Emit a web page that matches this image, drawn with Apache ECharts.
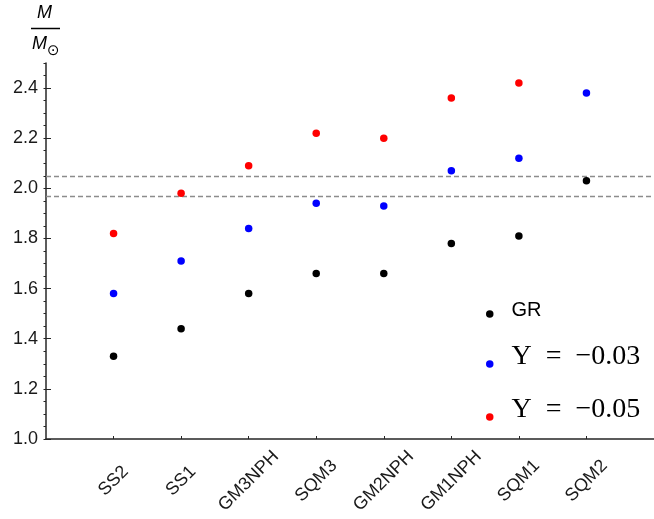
<!DOCTYPE html>
<html>
<head>
<meta charset="utf-8">
<script src="https://cdn.jsdelivr.net/npm/echarts@6/dist/echarts.min.js"></script>
<style>
  html, body { margin: 0; padding: 0; background: #fff; }
  #chart { width: 654px; height: 519px; }
</style>
</head>
<body>
<div id="chart"></div>
<script>
// Equation-of-state models along the x axis
const categories = ['SS2', 'SS1', 'GM3NPH', 'SQM3', 'GM2NPH', 'GM1NPH', 'SQM1', 'SQM2'];
// Maximum masses (in solar masses) for each model
const massGR = [1.33, 1.44, 1.58, 1.66, 1.66, 1.78, 1.81, 2.03];
const massUps003 = [1.58, 1.71, 1.84, 1.94, 1.93, 2.07, 2.12, 2.38];
const massUps005 = [1.82, 1.98, 2.09, 2.22, 2.20, 2.36, 2.42, null];
// Observed mass band limits
const bandLimits = [1.97, 2.05];
// Y axis range and label step
const yMin = 1.0, yMax = 2.5, yStep = 0.2, yMinorStep = 0.05;

const seriesNames = ['GR', 'Υ\u2002=\u2002−0.03', 'Υ\u2002=\u2002−0.05'];
const seriesColors = ['#000000', '#0000ff', '#ff0000'];
const seriesValues = [massGR, massUps003, massUps005];

const positions = categories.map((c, i) => i + 1);

const chart = echarts.init(document.getElementById('chart'), null, { renderer: 'canvas' });

const axisColor = '#262626';
const sans = '"Liberation Sans", Arial, sans-serif';
const serif = '"Liberation Serif", "DejaVu Serif", serif';

const series = seriesValues.map((vals, s) => ({
  name: seriesNames[s],
  type: 'scatter',
  yAxisIndex: 0,
  symbol: 'circle',
  symbolSize: 7.5,
  itemStyle: { color: seriesColors[s], opacity: 1 },
  data: vals.map((v, i) => [positions[i], v]).filter(d => d[1] !== null),
  z: 3
}));

// Dashed reference lines for the observed mass band
series[0].markLine = {
  silent: true,
  symbol: ['none', 'none'],
  label: { show: false },
  lineStyle: { color: '#8c8c8c', type: [5, 3], width: 1.3, opacity: 1 },
  data: bandLimits.map(v => ({ yAxis: v })),
  z: 1
};

// One legend block per series; the label sits a little above its dot
function legendFor(name, top, font, size, lineH, raise) {
  return {
    data: [{ name: name, icon: 'circle' }],
    left: 486,
    top: top,
    padding: 0,
    itemWidth: 7.5,
    itemHeight: 7.5,
    itemGap: 0,
    selectedMode: false,
    formatter: n => '{t|' + n + '}',
    textStyle: {
      rich: {
        t: {
          fontFamily: font,
          fontSize: size,
          lineHeight: lineH,
          color: '#000',
          padding: [0, 0, raise, 13]
        }
      }
    }
  };
}

const option = {
  animation: false,
  backgroundColor: '#ffffff',
  grid: { left: 46, right: -3, top: 63, bottom: 80, containLabel: false },
  xAxis: {
    type: 'value',
    min: 0,
    max: 9,
    axisLine: { show: true, onZero: false, lineStyle: { color: axisColor, width: 1.5 } },
    axisTick: { show: true, inside: true, length: 3, customValues: positions, lineStyle: { color: axisColor, width: 1 } },
    axisLabel: {
      show: true,
      customValues: positions,
      formatter: v => categories[Math.round(v) - 1] || '',
      rotate: 45,
      align: 'center',
      verticalAlign: 'middle',
      margin: 42,
      fontFamily: sans,
      fontSize: 18,
      color: '#1a1a1a'
    },
    splitLine: { show: false }
  },
  yAxis: [
    {
      type: 'value',
      min: yMin,
      max: yMax,
      interval: yStep,
      axisLine: { show: true, onZero: false, lineStyle: { color: axisColor, width: 1.5 } },
      axisTick: { show: true, inside: true, length: 5, lineStyle: { color: axisColor, width: 1 } },
      axisLabel: {
        showMaxLabel: false,
        formatter: v => v.toFixed(1),
        margin: 8,
        fontFamily: sans,
        fontSize: 18,
        color: '#1a1a1a'
      },
      splitLine: { show: false }
    },
    {
      type: 'value',
      min: yMin,
      max: yMax,
      interval: yMinorStep,
      axisLine: { show: false },
      axisTick: { show: true, inside: true, length: 2.5, lineStyle: { color: axisColor, width: 1 } },
      axisLabel: { show: false },
      splitLine: { show: false }
    }
  ],
  legend: [
    legendFor(seriesNames[0], 300, sans, 20, 20, 8),
    legendFor(seriesNames[1], 342.5, serif, 28, 28, 15),
    legendFor(seriesNames[2], 395.5, serif, 28, 28, 15)
  ],
  graphic: [
    { type: 'text', left: 37, top: 4, style: { text: 'M', font: 'italic 18px ' + sans, fill: '#000' } },
    { type: 'line', shape: { x1: 31, y1: 28.5, x2: 60, y2: 28.5 }, style: { stroke: '#000', lineWidth: 1.5 } },
    { type: 'text', left: 32, top: 35, style: { text: 'M', font: 'italic 18px ' + sans, fill: '#000' } },
    { type: 'text', left: 47, top: 44, style: { text: '⊙', font: '15px "DejaVu Sans", sans-serif', fill: '#000' } }
  ],
  series: series
};

chart.setOption(option);
</script>
</body>
</html>
